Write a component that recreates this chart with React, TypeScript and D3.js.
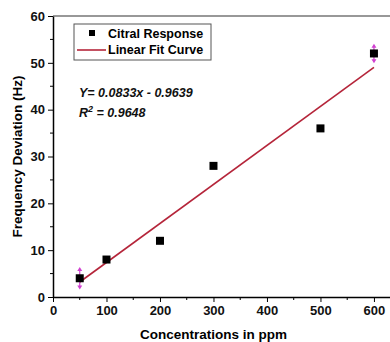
import React, { useEffect, useRef } from 'react';
import * as d3 from 'd3';

const concentrations = [50, 100, 200, 300, 500, 600];
const responses = [4, 8, 12, 28, 36, 52];
const errorAt = [50, 600];
const errorSize = [2.4, 2.1];
const slope = 0.0833;
const intercept = -0.9639;
const xTicks = [0, 100, 200, 300, 400, 500, 600];
const yTicks = [0, 10, 20, 30, 40, 50, 60];

const App = () => {
  const svgRef = useRef<SVGSVGElement>(null);

  useEffect(() => {
    const width = 390;
    const height = 342;
    const font = 'Liberation Sans, Arial, sans-serif';

    const svg = d3.select(svgRef.current).attr('width', width).attr('height', height);
    svg.selectAll('*').remove();
    svg.append('rect').attr('width', width).attr('height', height).attr('fill', '#fff');

    const x = d3.scaleLinear().domain([0, 630]).range([53, 390]);
    const y = d3.scaleLinear().domain([0, 60]).range([297, 16]);

    // cadre haut
    svg.append('line')
      .attr('x1', x(0)).attr('x2', x(630))
      .attr('y1', y(60)).attr('y2', y(60))
      .attr('stroke', '#333').attr('stroke-width', 1.2);

    // axes
    const xAxis = svg.append('g').attr('transform', `translate(0, ${y(0)})`)
      .call(d3.axisBottom(x).tickValues(xTicks).tickSize(5).tickSizeOuter(0).tickPadding(4));
    xAxis.append('g').selectAll('line')
      .data(d3.range(50, 630, 100))
      .join('line')
      .attr('x1', d => x(d)).attr('x2', d => x(d))
      .attr('y1', 0).attr('y2', 3).attr('stroke', '#000');

    const yAxis = svg.append('g').attr('transform', `translate(${x(0)}, 0)`)
      .call(d3.axisLeft(y).tickValues(yTicks).tickSize(5).tickSizeOuter(0).tickPadding(3));
    yAxis.append('g').selectAll('line')
      .data(d3.range(5, 60, 10))
      .join('line')
      .attr('y1', d => y(d)).attr('y2', d => y(d))
      .attr('x1', 0).attr('x2', -3).attr('stroke', '#000');

    [xAxis, yAxis].forEach(g => {
      g.select('.domain').attr('stroke', '#000').attr('stroke-width', 1.5);
      g.selectAll('text')
        .attr('font-family', font).attr('font-size', 13).attr('font-weight', 'bold').attr('fill', '#111');
    });

    // droite de régression
    svg.append('line')
      .attr('x1', x(50)).attr('y1', y(slope * 50 + intercept))
      .attr('x2', x(600)).attr('y2', y(slope * 600 + intercept))
      .attr('stroke', '#b5253a').attr('stroke-width', 1.6);

    // barres d'erreur (flèches vers l'extérieur)
    errorAt.forEach((c, i) => {
      const v = responses[concentrations.indexOf(c)];
      const cx = x(c);
      const e = errorSize[i];
      svg.append('line')
        .attr('x1', cx).attr('x2', cx).attr('y1', y(v + e) + 2).attr('y2', y(v - e) - 2)
        .attr('stroke', '#d040d0').attr('stroke-width', 1.2);
      [[v + e, 1], [v - e, -1]].forEach(([yy, dir]) => {
        const py = y(yy);
        svg.append('path')
          .attr('d', `M${cx - 2.5},${py + dir * 4}L${cx},${py}L${cx + 2.5},${py + dir * 4}Z`)
          .attr('fill', '#d040d0');
      });
    });

    // points
    svg.append('g').selectAll('rect')
      .data(concentrations)
      .join('rect')
      .attr('x', (d) => x(d) - 4)
      .attr('y', (d, i) => y(responses[i]) - 4)
      .attr('width', 8).attr('height', 8)
      .attr('fill', '#000');

    // légende
    const lg = svg.append('g');
    lg.append('rect').attr('x', 74).attr('y', 24).attr('width', 137).attr('height', 36)
      .attr('fill', '#fff').attr('stroke', '#555').attr('stroke-width', 1);
    lg.append('rect').attr('x', 89).attr('y', 30).attr('width', 6).attr('height', 6).attr('fill', '#000');
    lg.append('line').attr('x1', 77).attr('x2', 106).attr('y1', 50).attr('y2', 50)
      .attr('stroke', '#b5253a').attr('stroke-width', 1.6);
    lg.selectAll('text')
      .data(['Citral Response', 'Linear Fit Curve'])
      .join('text')
      .attr('x', 108).attr('y', (d, i) => 38 + i * 16)
      .attr('font-family', font).attr('font-size', 12.5).attr('font-weight', 'bold')
      .text(d => d);

    // équation
    const eq = svg.append('g').attr('font-family', font).attr('font-size', 12.5)
      .attr('font-weight', 'bold').attr('font-style', 'italic').attr('fill', '#111');
    eq.append('text').attr('x', 79).attr('y', 97).text(`Y= ${slope}x - ${Math.abs(intercept)}`);
    const r2 = eq.append('text').attr('x', 79).attr('y', 117);
    r2.append('tspan').text('R');
    r2.append('tspan').attr('dy', -5).attr('font-size', 9).text('2');
    r2.append('tspan').attr('dy', 5).text(' = 0.9648');

    // titres des axes
    svg.append('text')
      .attr('transform', `translate(22, ${y(30)}) rotate(-90)`)
      .attr('text-anchor', 'middle')
      .attr('font-family', font).attr('font-size', 13.5).attr('font-weight', 'bold')
      .text('Frequency Deviation (Hz)');
    svg.append('text')
      .attr('x', x(300)).attr('y', 339)
      .attr('text-anchor', 'middle')
      .attr('font-family', font).attr('font-size', 13.5).attr('font-weight', 'bold')
      .text('Concentrations in ppm');
  }, []);

  return <svg ref={svgRef} style={{ position: 'absolute', left: 0, top: 0 }}></svg>;
};

export default App;
